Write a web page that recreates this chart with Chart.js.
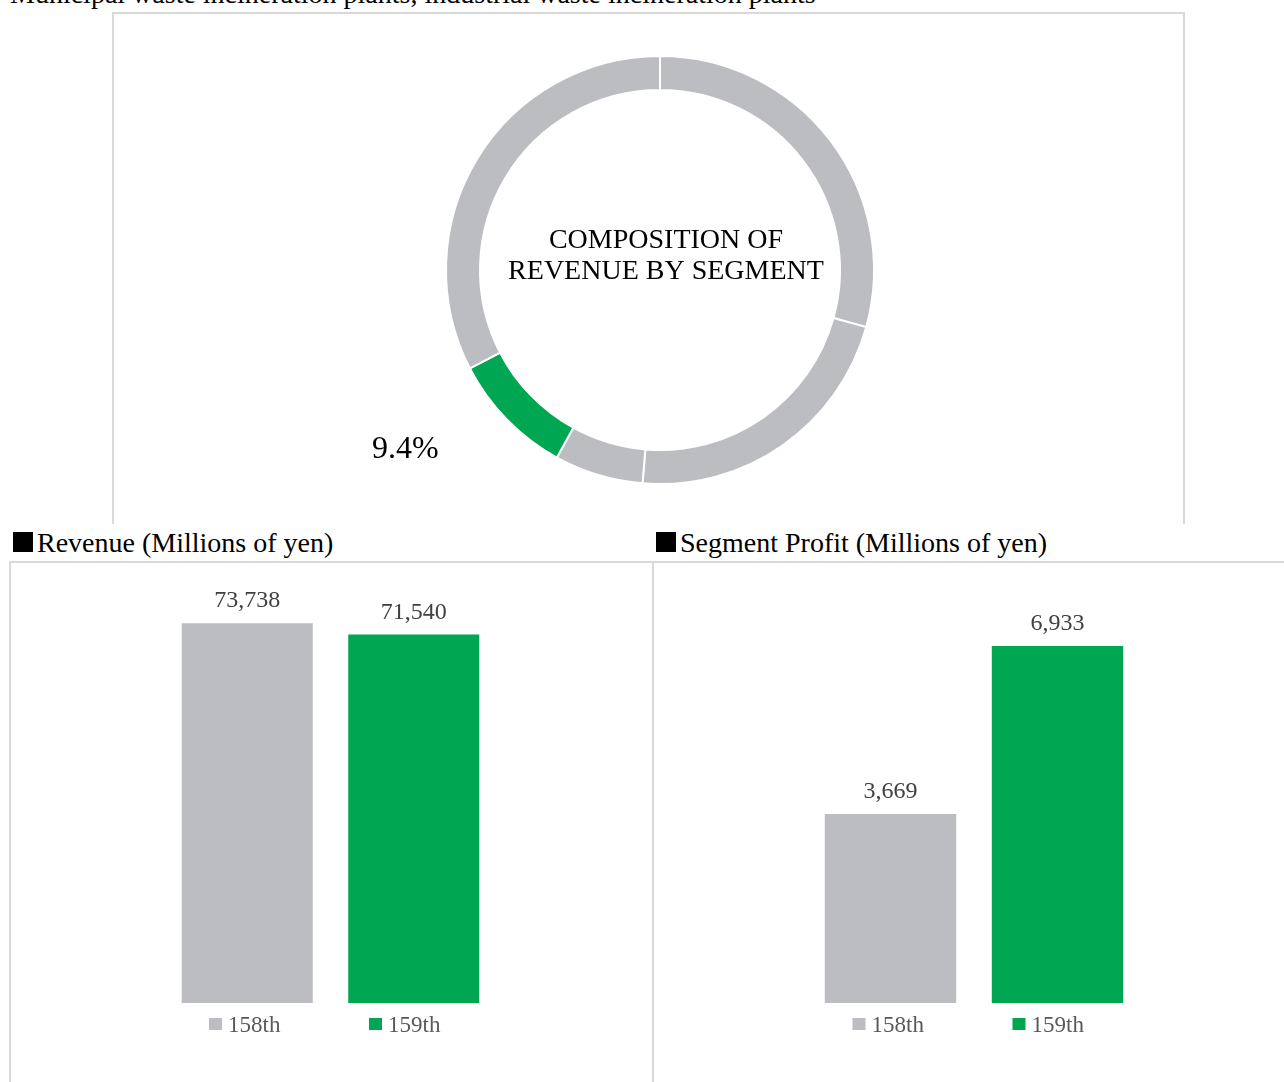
<!DOCTYPE html>
<html lang="en">
<head>
    <meta charset="UTF-8">
    <title>Environmental Solutions</title>
    <script src="https://cdn.jsdelivr.net/npm/chart.js"></script>
    <style>
        body {
            margin: 0;
            width: 1284px;
            height: 1082px;
            overflow: hidden;
            background: #ffffff;
            position: relative;
            font-family: "Liberation Serif", "Times New Roman", serif;
        }

        .abs { position: absolute; }

        .caption {
            font-size: 28px;
            line-height: 28px;
            white-space: nowrap;
            color: #000;
        }

        .sq {
            display: inline-block;
            width: 20px;
            height: 20px;
            background: #000;
            margin-right: 4px;
        }

        .frame-top {
            left: 112px; top: 12px;
            width: 1069px; height: 510px;
            border: 2px solid #d9d9d9;
            border-bottom: none;
        }

        .panel {
            top: 561px;
            height: 600px;
            border-top: 2px solid #d9d9d9;
            border-left: 2px solid #d9d9d9;
        }
    </style>
</head>
<body>

    <div class="abs caption" style="left:10px; top:-20px;">Municipal waste incineration plants, industrial waste incineration plants</div>

    <!-- composition ring -->
    <div class="abs frame-top"></div>
    <div class="abs" style="left:360px; top:20px; width:600px; height:500px;">
        <canvas id="shareChart"></canvas>
    </div>

    <!-- revenue / profit panels -->
    <div class="abs panel" style="left:9px; width:641px;"></div>
    <div class="abs panel" style="left:652px; width:640px;"></div>

    <div class="abs caption" style="left:13px; top:529px;"><span class="sq"></span>Revenue (Millions of yen)</div>
    <div class="abs caption" style="left:656px; top:529px;"><span class="sq"></span>Segment Profit (Millions of yen)</div>

    <div class="abs" style="left:164px; top:565px; width:333px; height:480px;">
        <canvas id="revenueChart"></canvas>
    </div>
    <div class="abs" style="left:807px; top:565px; width:334px; height:480px;">
        <canvas id="profitChart"></canvas>
    </div>

    <script>
        // revenue share by segment (%), clockwise from 12 o'clock
        const segments = ['Building Service & Industrial', 'Energy', 'Infrastructure', 'Environmental Solutions', 'Precision Machinery'];
        const shares = [29.3, 22.0, 6.7, 9.4, 32.6];
        const highlight = 3;
        const centerLines = ['COMPOSITION OF', 'REVENUE BY SEGMENT'];

        // fiscal periods
        const periods = ['158th', '159th'];
        const revenue = [73738, 71540];
        const profit = [3669, 6933];

        const GRAY = '#bcbdc0';
        const GREEN = '#00a651';
        const periodColors = [GRAY, GREEN];
        const SERIF = '"Liberation Serif", "Times New Roman", serif';

        const ringText = {
            id: 'ringText',
            afterDraw(chart) {
                const ctx = chart.ctx;
                const arc = chart.getDatasetMeta(0).data[highlight];
                const { x, y, outerRadius, startAngle, endAngle } =
                    arc.getProps(['x', 'y', 'outerRadius', 'startAngle', 'endAngle'], true);
                ctx.save();
                ctx.fillStyle = '#000';
                ctx.textAlign = 'center';
                ctx.textBaseline = 'alphabetic';
                ctx.font = '28px ' + SERIF;
                ctx.fillText(centerLines[0], x + 6, y - 22);
                ctx.fillText(centerLines[1], x + 6, y + 9);

                // share label, pulled out to the lower left of the green arc
                const mid = (startAngle + endAngle) / 2;
                const r = outerRadius + 44;
                ctx.font = '32px ' + SERIF;
                ctx.fillText(shares[highlight].toFixed(1) + '%',
                    x + Math.cos(mid) * r - 70, y + Math.sin(mid) * r + 8);
                ctx.restore();
            }
        };

        new Chart(document.getElementById('shareChart'), {
            type: 'doughnut',
            data: {
                labels: segments,
                datasets: [{
                    data: shares,
                    backgroundColor: shares.map((s, i) => i === highlight ? GREEN : GRAY),
                    borderColor: '#ffffff',
                    borderWidth: 2
                }]
            },
            options: {
                responsive: true,
                maintainAspectRatio: false,
                animation: false,
                radius: 214,
                cutout: (180 / 214 * 100) + '%',
                plugins: {
                    legend: { display: false },
                    tooltip: {
                        callbacks: { label: c => `${c.label}: ${c.raw}%` }
                    }
                }
            },
            plugins: [ringText]
        });

        // value above each bar, legend row centred under the plot
        const barText = {
            id: 'barText',
            afterDatasetsDraw(chart) {
                const ctx = chart.ctx;
                const area = chart.chartArea;
                const mid = (area.left + area.right) / 2;
                ctx.save();
                chart.data.datasets.forEach((ds, i) => {
                    chart.getDatasetMeta(i).data.forEach((bar, j) => {
                        const v = ds.data[j];
                        if (v == null) return;
                        ctx.textAlign = 'center';
                        ctx.font = '24px ' + SERIF;
                        ctx.fillStyle = '#404040';
                        ctx.fillText(v.toLocaleString('en-US'), bar.x, bar.y - 16);
                    });

                    const lx = mid - 121.5 + i * 160;
                    ctx.fillStyle = ds.backgroundColor;
                    ctx.fillRect(lx, area.bottom + 15, 13, 12);
                    ctx.textAlign = 'left';
                    ctx.font = '23px ' + SERIF;
                    ctx.fillStyle = '#595959';
                    ctx.fillText(ds.label, lx + 19, area.bottom + 29);
                });
                ctx.restore();
            }
        };

        function periodBars(id, values, max) {
            new Chart(document.getElementById(id), {
                type: 'bar',
                data: {
                    labels: periods,
                    datasets: periods.map((p, i) => ({
                        label: p,
                        data: values.map((v, j) => j === i ? v : null),
                        backgroundColor: periodColors[i],
                        categoryPercentage: 1,
                        barPercentage: 0.787
                    }))
                },
                options: {
                    responsive: true,
                    maintainAspectRatio: false,
                    animation: false,
                    layout: { padding: { top: 26, bottom: 42, left: 0, right: 0 } },
                    scales: {
                        x: { display: false, stacked: true },
                        y: { display: false, stacked: true, min: 0, max: max }
                    },
                    plugins: {
                        legend: { display: false }
                    }
                },
                plugins: [barText]
            });
        }

        periodBars('revenueChart', revenue, 80000);
        periodBars('profitChart', profit, 8000);
    </script>

</body>
</html>
